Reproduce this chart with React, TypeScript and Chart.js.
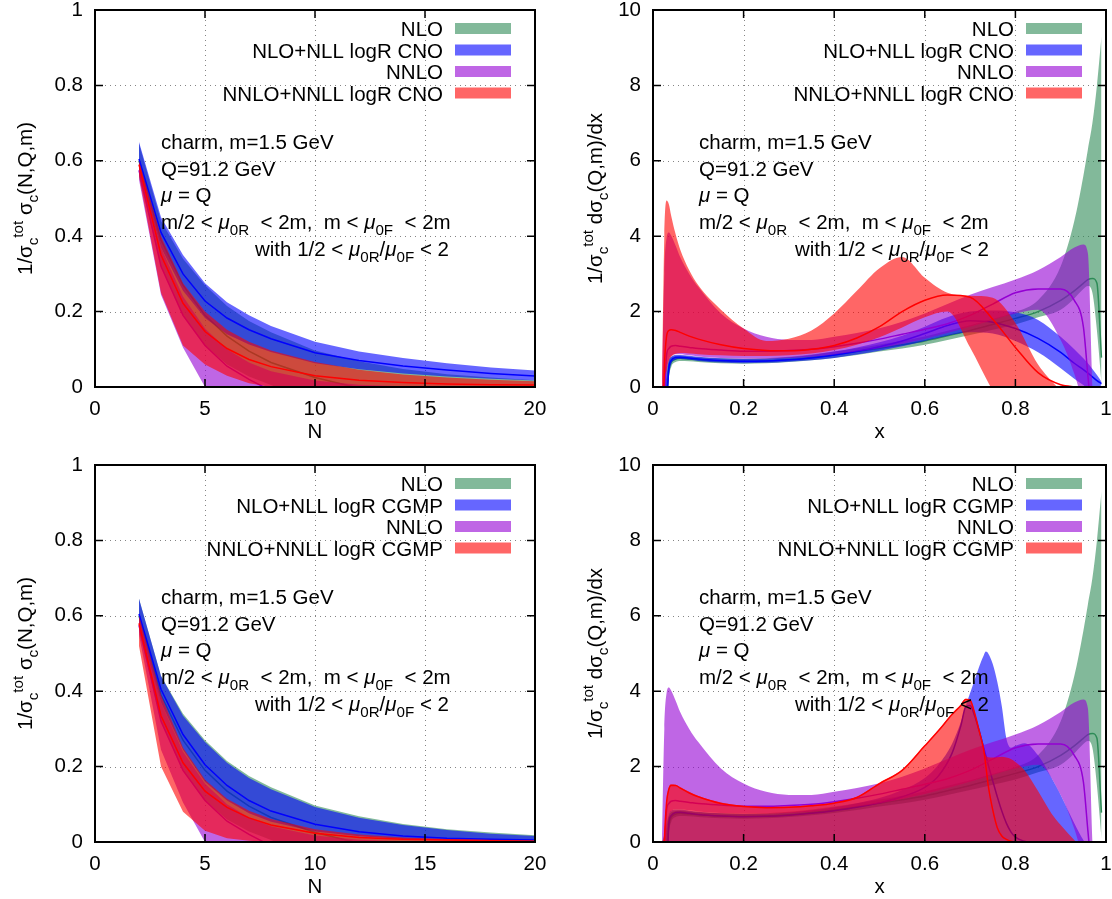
import React, { useEffect, useRef } from "react";
import { Chart, registerables } from "chart.js";
Chart.register(...registerables);

const FONT = '"Liberation Sans", Arial, Helvetica, sans-serif';
const FS = 20.5;

// ---------- N-space data (Mellin moments) ----------
const N_VALUES = [2, 3, 4, 5, 6, 7, 8, 10, 12, 14, 16, 18, 20];

const NLO_N_LOW = [0.56, 0.32, 0.19, 0.11, 0.06, 0.028, 0.005, -0.04, -0.06, -0.07, -0.08, -0.08, -0.08];
const NLO_N_MID = [0.6, 0.39, 0.27, 0.19, 0.135, 0.095, 0.065, 0.025, -0.003, -0.02, -0.03, -0.035, -0.04];
const NLO_N_HIGH = [0.645, 0.44, 0.34, 0.27, 0.215, 0.175, 0.145, 0.097, 0.068, 0.048, 0.034, 0.025, 0.018];

const NNLO_N_LOW = [0.55, 0.245, 0.105, 0.0, -0.06, -0.1, -0.15, -0.2, -0.2, -0.2, -0.2, -0.2, -0.2];
const NNLO_N_MID = [0.575, 0.32, 0.19, 0.11, 0.055, 0.02, -0.01, -0.05, -0.08, -0.1, -0.1, -0.1, -0.1];
const NNLO_N_HIGH = [0.59, 0.37, 0.24, 0.155, 0.1, 0.065, 0.042, 0.017, 0.006, 0.002, 0.0, -0.001, -0.001];

const CNO_NLL_N_LOW = [0.575, 0.37, 0.255, 0.183, 0.14, 0.113, 0.093, 0.063, 0.047, 0.036, 0.028, 0.022, 0.017];
const CNO_NLL_N_MID = [0.605, 0.41, 0.3, 0.228, 0.183, 0.152, 0.128, 0.091, 0.07, 0.056, 0.045, 0.036, 0.029];
const CNO_NLL_N_HIGH = [0.65, 0.45, 0.35, 0.275, 0.225, 0.19, 0.162, 0.12, 0.094, 0.077, 0.063, 0.052, 0.044];

const CNO_NNLL_N_LOW = [0.56, 0.25, 0.11, 0.06, 0.03, 0.01, 0.0, -0.005, -0.005, -0.005, -0.005, -0.005, -0.005];
const CNO_NNLL_N_MID = [0.59, 0.35, 0.222, 0.147, 0.102, 0.073, 0.054, 0.03, 0.018, 0.012, 0.008, 0.006, 0.005];
const CNO_NNLL_N_HIGH = [0.6, 0.4, 0.275, 0.2, 0.152, 0.12, 0.097, 0.066, 0.046, 0.033, 0.025, 0.019, 0.015];

const CGMP_NLL_N_LOW = [0.575, 0.37, 0.245, 0.16, 0.11, 0.076, 0.054, 0.028, 0.015, 0.008, 0.005, 0.003, 0.002];
const CGMP_NLL_N_MID = [0.605, 0.405, 0.285, 0.205, 0.15, 0.11, 0.082, 0.047, 0.027, 0.016, 0.01, 0.007, 0.005];
const CGMP_NLL_N_HIGH = [0.645, 0.44, 0.335, 0.265, 0.21, 0.17, 0.14, 0.093, 0.064, 0.045, 0.032, 0.022, 0.016];

const CGMP_NNLL_N_LOW = [0.52, 0.2, 0.08, 0.03, 0.01, 0.003, 0.0, -0.002, -0.003, -0.003, -0.003, -0.003, -0.003];
const CGMP_NNLL_N_MID = [0.58, 0.335, 0.21, 0.135, 0.092, 0.064, 0.045, 0.023, 0.012, 0.007, 0.005, 0.003, 0.002];
const CGMP_NNLL_N_HIGH = [0.6, 0.39, 0.25, 0.165, 0.115, 0.083, 0.061, 0.034, 0.02, 0.012, 0.008, 0.006, 0.004];

// ---------- x-space data ----------
const X_VALUES = [0.02, 0.025, 0.03, 0.035, 0.04, 0.05, 0.06, 0.08, 0.1, 0.15, 0.2, 0.25, 0.3, 0.35, 0.4, 0.45, 0.5, 0.55, 0.6, 0.65, 0.7, 0.75, 0.8, 0.85, 0.9, 0.93, 0.95, 0.96, 0.97, 0.98, 0.99];

const NLO_X_LOW = [-3, -2, -1, 0.2, 0.52, 0.66, 0.69, 0.68, 0.66, 0.63, 0.62, 0.63, 0.66, 0.71, 0.77, 0.85, 0.94, 1.02, 1.12, 1.25, 1.38, 1.52, 1.66, 1.85, 2.05, 2.35, 2.6, 2.68, 2.5, 1.5, 0.1];
const NLO_X_MID = [-3, -1.5, -0.3, 0.45, 0.65, 0.74, 0.76, 0.74, 0.72, 0.69, 0.68, 0.69, 0.72, 0.78, 0.85, 0.94, 1.03, 1.12, 1.22, 1.36, 1.5, 1.66, 1.82, 2.0, 2.3, 2.55, 2.75, 2.85, 2.88, 2.75, 0.78];
const NLO_X_HIGH = [0, 0.2, 0.5, 0.7, 0.78, 0.82, 0.83, 0.81, 0.79, 0.76, 0.75, 0.76, 0.8, 0.86, 0.94, 1.03, 1.13, 1.23, 1.34, 1.49, 1.64, 1.81, 1.99, 2.3, 3.2, 4.4, 5.6, 6.3, 7.0, 8.0, 9.3];

const NNLO_X_LOW = [-3, -1, 0.3, 0.72, 0.82, 0.87, 0.87, 0.84, 0.81, 0.77, 0.75, 0.75, 0.77, 0.8, 0.86, 0.94, 1.03, 1.14, 1.27, 1.43, 1.6, 1.78, 1.95, 2.05, 1.25, 0.35, -0.5, -1, -1.5, -2, -2.5];
const NNLO_X_MID = [-3, -0.5, 0.85, 1.02, 1.08, 1.1, 1.08, 1.05, 1.02, 0.98, 0.95, 0.95, 0.97, 1.0, 1.07, 1.16, 1.27, 1.4, 1.53, 1.68, 1.9, 2.2, 2.5, 2.6, 2.6, 2.3, 1.6, 0.3, -1, -2, -3];
const NNLO_X_HIGH = [0, 3.0, 3.95, 4.1, 4.02, 3.75, 3.45, 3.0, 2.65, 1.95, 1.55, 1.33, 1.25, 1.25, 1.33, 1.43, 1.56, 1.73, 1.95, 2.2, 2.45, 2.65, 2.85, 3.1, 3.45, 3.7, 3.78, 3.55, 0.0, -2, -3];

const CNO_NLL_X_LOW = [-1, -1, -0.5, 0.3, 0.6, 0.72, 0.74, 0.72, 0.69, 0.65, 0.63, 0.64, 0.67, 0.71, 0.77, 0.86, 0.96, 1.08, 1.22, 1.36, 1.45, 1.42, 1.22, 0.92, 0.5, 0.22, 0.05, -0.05, -0.1, -0.05, 0.05];
const CNO_NLL_X_MID = [-1, -1, -0.5, 0.5, 0.7, 0.78, 0.79, 0.77, 0.74, 0.7, 0.68, 0.69, 0.72, 0.77, 0.85, 0.95, 1.07, 1.22, 1.42, 1.63, 1.76, 1.72, 1.55, 1.29, 0.92, 0.63, 0.46, 0.37, 0.27, 0.17, 0.09];
const CNO_NLL_X_HIGH = [0, 0, 0.3, 0.72, 0.8, 0.85, 0.85, 0.83, 0.8, 0.76, 0.74, 0.75, 0.79, 0.85, 0.94, 1.05, 1.19, 1.36, 1.6, 1.85, 2.0, 2.03, 1.98, 1.78, 1.33, 1.0, 0.76, 0.63, 0.48, 0.32, 0.14];

const CNO_NNLL_X_LOW = [-2, 0, 0.45, 0.7, 0.8, 0.88, 0.9, 0.89, 0.87, 0.84, 0.82, 0.82, 0.84, 0.89, 0.98, 1.12, 1.32, 1.58, 1.85, 2.0, 1.05, -0.1, -1, -1, -1, -1, -1, -1, -1, -1, -1];
const CNO_NNLL_X_MID = [-2, 0.5, 1.35, 1.5, 1.52, 1.5, 1.45, 1.35, 1.27, 1.12, 1.02, 0.97, 0.96, 1.0, 1.1, 1.3, 1.6, 2.0, 2.3, 2.44, 2.38, 1.8, 1.05, 0.38, 0.06, 0.01, 0.0, 0.0, 0.0, 0.0, 0.0];
const CNO_NNLL_X_HIGH = [0, 4.0, 4.95, 4.85, 4.55, 4.05, 3.65, 3.1, 2.7, 2.05, 1.55, 1.22, 1.28, 1.5, 1.95, 2.55, 3.15, 3.45, 2.9, 2.5, 2.42, 2.37, 1.7, 0.6, -0.1, -0.5, -1, -1, -1, -1, -1];

const X_VALUES_CGMP = [0.02, 0.025, 0.03, 0.035, 0.04, 0.05, 0.06, 0.08, 0.1, 0.15, 0.2, 0.25, 0.3, 0.35, 0.4, 0.45, 0.5, 0.55, 0.6, 0.63, 0.66, 0.68, 0.69, 0.7, 0.71, 0.72, 0.73, 0.735, 0.74, 0.75, 0.76, 0.77, 0.78, 0.79, 0.8, 0.82, 0.85, 0.88, 0.9, 0.93, 0.95, 0.97, 0.99];

const CGMP_NLL_X_LOW = [-1, -1, -1, -0.5, -0.3, -0.3, -0.3, -0.3, -0.3, -0.3, -0.3, -0.3, -0.3, -0.3, -0.3, -0.3, -0.3, -0.3, -0.3, -0.3, -0.3, -0.3, -0.3, -0.3, -0.3, -0.3, -0.3, -0.3, -0.3, -0.3, -0.3, -0.3, -0.3, -0.3, -0.3, -0.3, -0.3, -0.3, -0.3, -0.3, -0.3, -0.3, -0.3];
const CGMP_NLL_X_MID = [-1, -1, -1, 0.5, 0.7, 0.78, 0.79, 0.76, 0.73, 0.69, 0.67, 0.68, 0.71, 0.76, 0.83, 0.92, 1.04, 1.2, 1.45, 1.75, 2.35, 3.1, 3.58, 3.62, 3.35, 2.95, 2.5, 2.28, 2.05, 1.62, 1.2, 0.82, 0.5, 0.27, 0.13, 0.02, -0.05, -0.1, -0.1, -0.1, -0.1, -0.1, -0.1];
const CGMP_NLL_X_HIGH = [0, 0, 0.4, 0.75, 0.83, 0.86, 0.86, 0.83, 0.8, 0.76, 0.74, 0.75, 0.78, 0.84, 0.92, 1.03, 1.17, 1.38, 1.7, 2.05, 2.6, 3.2, 3.6, 3.95, 4.3, 4.65, 4.95, 5.05, 5.0, 4.72, 4.25, 3.6, 2.75, 2.5, 2.55, 2.62, 2.3, 1.7, 1.25, 0.5, 0.05, -0.3, -0.5];

const CGMP_NNLL_X_LOW = [-2, -1, -0.5, -0.3, -0.3, -0.3, -0.3, -0.3, -0.3, -0.3, -0.3, -0.3, -0.3, -0.3, -0.3, -0.3, -0.3, -0.3, -0.3, -0.3, -0.3, -0.3, -0.3, -0.3, -0.3, -0.3, -0.3, -0.3, -0.3, -0.3, -0.3, -0.3, -0.3, -0.3, -0.3, -0.3, -0.3, -0.3, -0.3, -0.3, -0.3, -0.3, -0.3];
const CGMP_NNLL_X_MID = [-2, 0, 1.05, 1.4, 1.5, 1.5, 1.43, 1.3, 1.2, 1.02, 0.94, 0.91, 0.92, 0.96, 1.03, 1.18, 1.55, 1.9, 2.55, 2.95, 3.38, 3.63, 3.78, 3.76, 3.42, 2.95, 2.45, 2.0, 1.5, 0.85, 0.38, 0.16, 0.07, 0.02, 0.0, 0.0, 0.0, 0.0, 0.0, 0.0, 0.0, 0.0, 0.0];
const CGMP_NNLL_X_HIGH = [0, 0.2, 1.1, 1.45, 1.53, 1.52, 1.46, 1.33, 1.22, 1.05, 0.96, 0.93, 0.94, 0.98, 1.05, 1.2, 1.57, 1.92, 2.57, 2.97, 3.4, 3.65, 3.8, 3.78, 3.45, 2.98, 2.5, 2.3, 2.25, 2.24, 2.25, 2.26, 2.24, 2.2, 2.12, 1.9, 1.35, 0.75, 0.45, 0.05, -0.2, -0.5, -0.5];

// ---------- labels ----------
const LEGEND_CNO = ["NLO", "NLO+NLL logR CNO", "NNLO", "NNLO+NNLL logR CNO"];
const LEGEND_CGMP = ["NLO", "NLO+NLL logR CGMP", "NNLO", "NNLO+NNLL logR CGMP"];
const FILLS = ["rgba(46,139,87,0.6)", "rgba(0,0,255,0.6)", "rgba(148,0,211,0.6)", "rgba(255,0,0,0.6)"];
const LINES = ["#2e8b57", "#0000ff", "#9400d3", "#ff0000"];

type Seg = { t: string; s?: string };

const ANNOT: Seg[][] = [
  [{ t: "charm, m=1.5 GeV" }],
  [{ t: "Q=91.2 GeV" }],
  [{ t: "μ", s: "it" }, { t: " = Q" }],
  [{ t: "m/2 < " }, { t: "μ", s: "it" }, { t: "0R", s: "sub" }, { t: "  < 2m,  m < " }, { t: "μ", s: "it" }, { t: "0F", s: "sub" }, { t: "  < 2m" }],
  [{ t: "with 1/2 < " }, { t: "μ", s: "it" }, { t: "0R", s: "sub" }, { t: "/" }, { t: "μ", s: "it" }, { t: "0F", s: "sub" }, { t: " < 2" }],
];

const YTITLE_N: Seg[] = [{ t: "1/σ" }, { t: "c", s: "sub" }, { t: "tot", s: "sup" }, { t: " σ" }, { t: "c", s: "sub" }, { t: "(N,Q,m)" }];
const YTITLE_X: Seg[] = [{ t: "1/σ" }, { t: "c", s: "sub" }, { t: "tot", s: "sup" }, { t: " dσ" }, { t: "c", s: "sub" }, { t: "(Q,m)/dx" }];

function drawRich(ctx: any, x: number, y: number, segs: Seg[], size: number, align: string) {
  const parts = segs.map((sg) => {
    const small = sg.s === "sub" || sg.s === "sup";
    const italic = sg.s === "it";
    const fs = small ? size * 0.74 : size;
    const font = `${italic ? "italic " : ""}${fs}px ${FONT}`;
    ctx.font = font;
    const w = ctx.measureText(sg.t).width;
    const dy = sg.s === "sub" ? size * 0.3 : sg.s === "sup" ? -size * 0.45 : 0;
    return { font, w, dy, t: sg.t };
  });
  const total = parts.reduce((a, p) => a + p.w, 0);
  let cx = align === "left" ? x : align === "center" ? x - total / 2 : x - total;
  ctx.textAlign = "left";
  ctx.textBaseline = "alphabetic";
  ctx.fillStyle = "#000";
  for (const p of parts) {
    ctx.font = p.font;
    ctx.fillText(p.t, cx, y + p.dy);
    cx += p.w;
  }
}

function series(xs: number[], low: number[], mid: number[], high: number[], k: number) {
  return { xs, low, mid, high, fill: FILLS[k], line: LINES[k] };
}

const PANELS = [
  {
    x: 0, y: 0, w: 556, h: 450, area: { l: 95, r: 535, t: 10, b: 387 },
    xr: [0, 20, 5], yr: [0, 1, 0.2], smooth: false, xTitle: "N", yTitle: YTITLE_N, titleX: 25,
    legend: LEGEND_CNO, annX: 66, withX: 160,
    series: [
      series(N_VALUES, NLO_N_LOW, NLO_N_MID, NLO_N_HIGH, 0),
      series(N_VALUES, CNO_NLL_N_LOW, CNO_NLL_N_MID, CNO_NLL_N_HIGH, 1),
      series(N_VALUES, NNLO_N_LOW, NNLO_N_MID, NNLO_N_HIGH, 2),
      series(N_VALUES, CNO_NNLL_N_LOW, CNO_NNLL_N_MID, CNO_NNLL_N_HIGH, 3),
    ],
  },
  {
    x: 556, y: 0, w: 556, h: 450, area: { l: 97, r: 550, t: 10, b: 387 },
    xr: [0, 1, 0.2], yr: [0, 10, 2], smooth: true, xTitle: "x", yTitle: YTITLE_X, titleX: 39,
    legend: LEGEND_CNO, annX: 46, withX: 142,
    series: [
      series(X_VALUES, NLO_X_LOW, NLO_X_MID, NLO_X_HIGH, 0),
      series(X_VALUES, CNO_NLL_X_LOW, CNO_NLL_X_MID, CNO_NLL_X_HIGH, 1),
      series(X_VALUES, NNLO_X_LOW, NNLO_X_MID, NNLO_X_HIGH, 2),
      series(X_VALUES, CNO_NNLL_X_LOW, CNO_NNLL_X_MID, CNO_NNLL_X_HIGH, 3),
    ],
  },
  {
    x: 0, y: 450, w: 556, h: 449, area: { l: 95, r: 535, t: 15, b: 392 },
    xr: [0, 20, 5], yr: [0, 1, 0.2], smooth: false, xTitle: "N", yTitle: YTITLE_N, titleX: 25,
    legend: LEGEND_CGMP, annX: 66, withX: 160,
    series: [
      series(N_VALUES, NLO_N_LOW, NLO_N_MID, NLO_N_HIGH, 0),
      series(N_VALUES, CGMP_NLL_N_LOW, CGMP_NLL_N_MID, CGMP_NLL_N_HIGH, 1),
      series(N_VALUES, NNLO_N_LOW, NNLO_N_MID, NNLO_N_HIGH, 2),
      series(N_VALUES, CGMP_NNLL_N_LOW, CGMP_NNLL_N_MID, CGMP_NNLL_N_HIGH, 3),
    ],
  },
  {
    x: 556, y: 450, w: 556, h: 449, area: { l: 97, r: 550, t: 15, b: 392 },
    xr: [0, 1, 0.2], yr: [0, 10, 2], smooth: true, xTitle: "x", yTitle: YTITLE_X, titleX: 39,
    legend: LEGEND_CGMP, annX: 46, withX: 142,
    series: [
      series(X_VALUES, NLO_X_LOW, NLO_X_MID, NLO_X_HIGH, 0),
      series(X_VALUES_CGMP, CGMP_NLL_X_LOW, CGMP_NLL_X_MID, CGMP_NLL_X_HIGH, 1),
      series(X_VALUES, NNLO_X_LOW, NNLO_X_MID, NNLO_X_HIGH, 2),
      series(X_VALUES_CGMP, CGMP_NNLL_X_LOW, CGMP_NNLL_X_MID, CGMP_NNLL_X_HIGH, 3),
    ],
  },
];

const fmtTick = (v: any) => String(Number(Number(v).toFixed(3)));

function buildConfig(p: any) {
  const common: any = {
    pointRadius: 0,
    pointHoverRadius: 0,
    tension: 0,
    cubicInterpolationMode: p.smooth ? "monotone" : "default",
  };
  const datasets: any[] = [];
  // first dataset is drawn last (on top): red series on top
  for (const s of [...p.series].reverse()) {
    const pts = (ys: number[]) => s.xs.map((x: number, i: number) => ({ x, y: ys[i] }));
    datasets.push({ ...common, data: pts(s.mid), borderColor: s.line, borderWidth: 1.5, fill: false });
    datasets.push({ ...common, data: pts(s.high), borderColor: "rgba(0,0,0,0)", borderWidth: 0, backgroundColor: s.fill, fill: "+1" });
    datasets.push({ ...common, data: pts(s.low), borderColor: "rgba(0,0,0,0)", borderWidth: 0, fill: false });
  }
  const a = p.area;
  const tickFont = { family: FONT, size: FS, lineHeight: 0.9 };

  const framePlugin = {
    id: "frame",
    beforeDatasetsDraw(chart: any) {
      const ctx = chart.ctx;
      const xs = chart.scales.x, ys = chart.scales.y;
      const ca = chart.chartArea;
      ctx.save();
      ctx.strokeStyle = "rgba(120,120,120,0.9)";
      ctx.lineWidth = 1;
      ctx.setLineDash([1, 4]);
      for (const t of xs.ticks) {
        if (t.value <= xs.min || t.value >= xs.max) continue;
        const px = Math.round(xs.getPixelForValue(t.value)) + 0.5;
        ctx.beginPath(); ctx.moveTo(px, ca.top); ctx.lineTo(px, ca.bottom); ctx.stroke();
      }
      for (const t of ys.ticks) {
        if (t.value <= ys.min || t.value >= ys.max) continue;
        const py = Math.round(ys.getPixelForValue(t.value)) + 0.5;
        ctx.beginPath(); ctx.moveTo(ca.left, py); ctx.lineTo(ca.right, py); ctx.stroke();
      }
      ctx.restore();
    },
    afterDraw(chart: any) {
      const ctx = chart.ctx;
      const xs = chart.scales.x, ys = chart.scales.y;
      const ca = chart.chartArea;
      ctx.save();
      ctx.setLineDash([]);
      ctx.strokeStyle = "#000";
      ctx.lineWidth = 1.5;
      const TL = 8;
      for (const t of xs.ticks) {
        const px = xs.getPixelForValue(t.value);
        ctx.beginPath();
        ctx.moveTo(px, ca.bottom); ctx.lineTo(px, ca.bottom - TL);
        ctx.moveTo(px, ca.top); ctx.lineTo(px, ca.top + TL);
        ctx.stroke();
      }
      for (const t of ys.ticks) {
        const py = ys.getPixelForValue(t.value);
        ctx.beginPath();
        ctx.moveTo(ca.left, py); ctx.lineTo(ca.left + TL, py);
        ctx.moveTo(ca.right, py); ctx.lineTo(ca.right - TL, py);
        ctx.stroke();
      }
      ctx.lineWidth = 2;
      ctx.strokeRect(ca.left, ca.top, ca.right - ca.left, ca.bottom - ca.top);

      // legend
      const lgBase = [26, 47.5, 69, 90.5];
      p.legend.forEach((lab: string, i: number) => {
        ctx.font = `${FS}px ${FONT}`;
        ctx.fillStyle = "#000";
        ctx.textAlign = "right";
        ctx.textBaseline = "alphabetic";
        ctx.fillText(lab, ca.right - 92, ca.top + lgBase[i]);
        ctx.fillStyle = FILLS[i];
        ctx.fillRect(ca.right - 80, ca.top + lgBase[i] - 13, 56, 11);
      });

      // annotation
      const annBase = [139, 166, 192, 219, 246];
      ANNOT.forEach((segs, i) => {
        const x0 = i === 4 ? ca.left + p.withX : ca.left + p.annX;
        drawRich(ctx, x0, ca.top + annBase[i], segs, FS, "left");
      });

      // x title
      ctx.font = `${FS}px ${FONT}`;
      ctx.fillStyle = "#000";
      ctx.textAlign = "center";
      ctx.textBaseline = "alphabetic";
      ctx.fillText(p.xTitle, (ca.left + ca.right) / 2, ca.bottom + 51);

      // y title (rotated)
      ctx.save();
      ctx.translate(p.titleX + 7, (ca.top + ca.bottom) / 2);
      ctx.rotate(-Math.PI / 2);
      drawRich(ctx, 0, 0, p.yTitle, FS, "center");
      ctx.restore();
      ctx.restore();
    },
  };

  return {
    type: "line",
    data: { datasets },
    options: {
      animation: false,
      responsive: false,
      devicePixelRatio: 1,
      events: [],
      layout: { padding: { left: 0, top: a.t, right: p.w - a.r, bottom: 0 } },
      plugins: { legend: { display: false }, tooltip: { enabled: false }, title: { display: false } },
      scales: {
        x: {
          type: "linear",
          min: p.xr[0], max: p.xr[1],
          grid: { display: false, drawTicks: false },
          border: { display: false },
          ticks: { stepSize: p.xr[2], autoSkip: false, maxRotation: 0, padding: 13, color: "#000", font: tickFont, callback: fmtTick },
          afterFit: (s: any) => { s.height = p.h - a.b; s.paddingLeft = 0; s.paddingRight = 0; },
        },
        y: {
          type: "linear",
          min: p.yr[0], max: p.yr[1],
          grid: { display: false, drawTicks: false },
          border: { display: false },
          ticks: { stepSize: p.yr[2], autoSkip: false, padding: 12, color: "#000", font: tickFont, callback: fmtTick },
          afterFit: (s: any) => { s.width = a.l; s.paddingTop = 0; s.paddingBottom = 0; },
        },
      },
    },
    plugins: [framePlugin],
  };
}

function Panel({ cfg }: { cfg: any }) {
  const ref = useRef<HTMLCanvasElement>(null);
  useEffect(() => {
    const chart = new Chart(ref.current as any, buildConfig(cfg) as any);
    return () => chart.destroy();
  }, []);
  return (
    <canvas
      ref={ref}
      width={cfg.w}
      height={cfg.h}
      style={{ position: "absolute", left: cfg.x, top: cfg.y, width: cfg.w, height: cfg.h }}
    />
  );
}

export default function App() {
  return (
    <div style={{ position: "absolute", left: 0, top: 0, width: 1112, height: 899, overflow: "hidden", background: "#fff" }}>
      {PANELS.map((p, i) => (
        <Panel key={i} cfg={p} />
      ))}
    </div>
  );
}
